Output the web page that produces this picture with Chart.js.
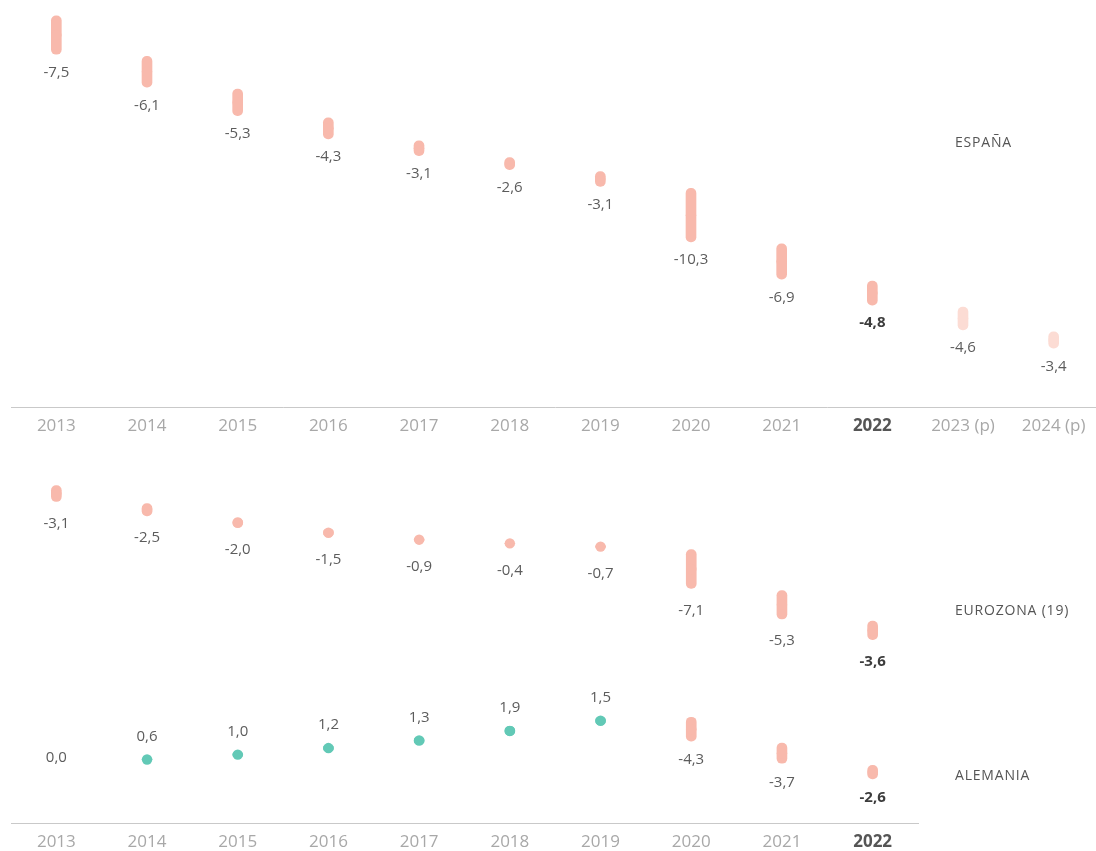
<!DOCTYPE html>
<html><head><meta charset="utf-8">
<script src="https://cdn.jsdelivr.net/npm/chart.js@4.4.1/dist/chart.umd.min.js"></script>
<style>
html,body{margin:0;padding:0;background:#fff;overflow:hidden;width:1096px;height:851px;position:relative;}
#cTop{position:absolute;left:0;top:0;}
#cBot{position:absolute;left:0;top:445px;}
.lbl{position:absolute;left:955px;font-family:'Open Sans',sans-serif;font-size:14px;letter-spacing:0.8px;color:#555;line-height:1;white-space:nowrap;transform:translateY(-50%);}
</style></head>
<body>
<canvas id="cTop" width="1100" height="444"></canvas>
<canvas id="cBot" width="1096" height="415"></canvas>
<div class="lbl" style="top:142px">ESPAÑA</div>
<div class="lbl" style="top:610px">EUROZONA (19)</div>
<div class="lbl" style="top:775px">ALEMANIA</div>
<script>
// ---- data ----
const years = ['2013','2014','2015','2016','2017','2018','2019','2020','2021','2022','2023 (p)','2024 (p)'];
const espana = [-7.5,-6.1,-5.3,-4.3,-3.1,-2.6,-3.1,-10.3,-6.9,-4.8,-4.6,-3.4];
const yearsEU = ['2013','2014','2015','2016','2017','2018','2019','2020','2021','2022'];
const eurozona = [-3.1,-2.5,-2.0,-1.5,-0.9,-0.4,-0.7,-7.1,-5.3,-3.6];
const alemania = [0.0,0.6,1.0,1.2,1.3,1.9,1.5,-4.3,-3.7,-2.6];
const highlightYear = '2022';
const projectedYears = ['2023 (p)','2024 (p)'];

// axis ranges (hidden value axes)
const topRange = {min:-72.83, max:2.75};
const euRange = {min:-58.85, max:6.89};
const deRange = {min:-10.37, max:52.63};

// ---- styles ----
const SALMON = '#f8b9ac';
const SALMON_LIGHT = '#fcdcd4';
const TEAL = '#62c9b6';
const FONT = "'Open Sans', sans-serif";

function ranges(vals){ let c=0; return vals.map(v=>{const s=c; c+=v; return [s,c];}); }
function mids(r){ return r.map(p=>(p[0]+p[1])/2); }
function fmt(v){ return v.toFixed(1).replace('.',','); }

const labelPlugin = {
  id:'valueLabels',
  afterDatasetsDraw(chart){
    const cfg = chart.options.plugins.valueLabels;
    if(!cfg) return;
    const ctx = chart.ctx;
    const labels = chart.data.labels;
    cfg.series.forEach(s=>{
      const barMeta = chart.getDatasetMeta(s.bar);
      const ptMeta = chart.getDatasetMeta(s.point);
      s.values.forEach((v,i)=>{
        const b = barMeta.data[i], p = ptMeta.data[i];
        const r = 5;
        const top = Math.min(b.y+1,b.base+1,p.y-r), bot = Math.max(b.y-1,b.base-1,p.y+r);
        let cy;
        if(v<0) cy = bot + s.below;
        else if(v>0) cy = top - s.above;
        else cy = p.y - 5;
        const bold = labels[i]===highlightYear;
        ctx.save();
        ctx.font = (bold?'bold ':'') + '15px ' + FONT;
        ctx.fillStyle = bold ? '#3c3c3c' : '#5c5c5c';
        ctx.textAlign = 'center';
        ctx.textBaseline = 'alphabetic';
        ctx.fillText(fmt(v), b.x, cy + 15*0.357);
        ctx.restore();
      });
    });
  }
};

function xScale(labels){
  return {
    offset:true,
    grid:{display:false, drawTicks:false},
    border:{display:true, color:'#c9c9c9', width:1},
    ticks:{
      autoSkip:false, maxRotation:0, padding:8,
      color: c => labels[c.index]===highlightYear ? '#555555' : '#a8a8a8',
      font: c => ({family:FONT, size:17, weight: labels[c.index]===highlightYear ? 'bold' : 'normal'})
    }
  };
}

function barDs(vals, yAxisID, colorFn){
  return {type:'bar', data:ranges(vals), yAxisID, backgroundColor: c=>colorFn(c.dataIndex),
    grouped:false, barThickness:12, borderRadius:6, borderSkipped:false,
    borderWidth:1, borderColor:'#ffffff', order:2};
}
function pointDs(vals, yAxisID, colorFn){
  return {type:'line', data:mids(ranges(vals)), yAxisID, showLine:false,
    pointRadius: c => vals[c.dataIndex]===0 ? 0 : 5.2,
    pointHoverRadius:0, pointBorderWidth:0,
    pointBackgroundColor: c=>colorFn(c.dataIndex), borderColor:'rgba(0,0,0,0)', order:1};
}

// ---- top chart: España ----
const esColor = i => projectedYears.includes(years[i]) ? SALMON_LIGHT : SALMON;
new Chart(document.getElementById('cTop'), {
  data:{ labels: years, datasets:[ barDs(espana,'y',esColor), pointDs(espana,'y',esColor) ] },
  options:{
    responsive:false, animation:false, events:[],
    layout:{autoPadding:false, padding:{left:11,right:1,top:0,bottom:0}},
    plugins:{legend:{display:false}, tooltip:{enabled:false},
      valueLabels:{series:[{bar:0,point:1,values:espana,below:17,above:19}]}},
    scales:{ x:xScale(years), y:{display:false, min:topRange.min, max:topRange.max} }
  },
  plugins:[labelPlugin]
});

// ---- bottom chart: Eurozona + Alemania ----
const euColor = i => SALMON;
const deColor = i => alemania[i] > 0 ? TEAL : SALMON;
new Chart(document.getElementById('cBot'), {
  data:{ labels: yearsEU, datasets:[
    barDs(eurozona,'y',euColor), pointDs(eurozona,'y',euColor),
    barDs(alemania,'y2',deColor), pointDs(alemania,'y2',deColor)
  ]},
  options:{
    responsive:false, animation:false, events:[],
    layout:{autoPadding:false, padding:{left:11,right:178,top:0,bottom:0}},
    plugins:{legend:{display:false}, tooltip:{enabled:false},
      valueLabels:{series:[
        {bar:0,point:1,values:eurozona,below:21,above:19},
        {bar:2,point:3,values:alemania,below:18,above:19}
      ]}},
    scales:{
      x:xScale(yearsEU),
      y:{display:false, min:euRange.min, max:euRange.max},
      y2:{display:false, min:deRange.min, max:deRange.max}
    }
  },
  plugins:[labelPlugin]
});
</script>
</body></html>
